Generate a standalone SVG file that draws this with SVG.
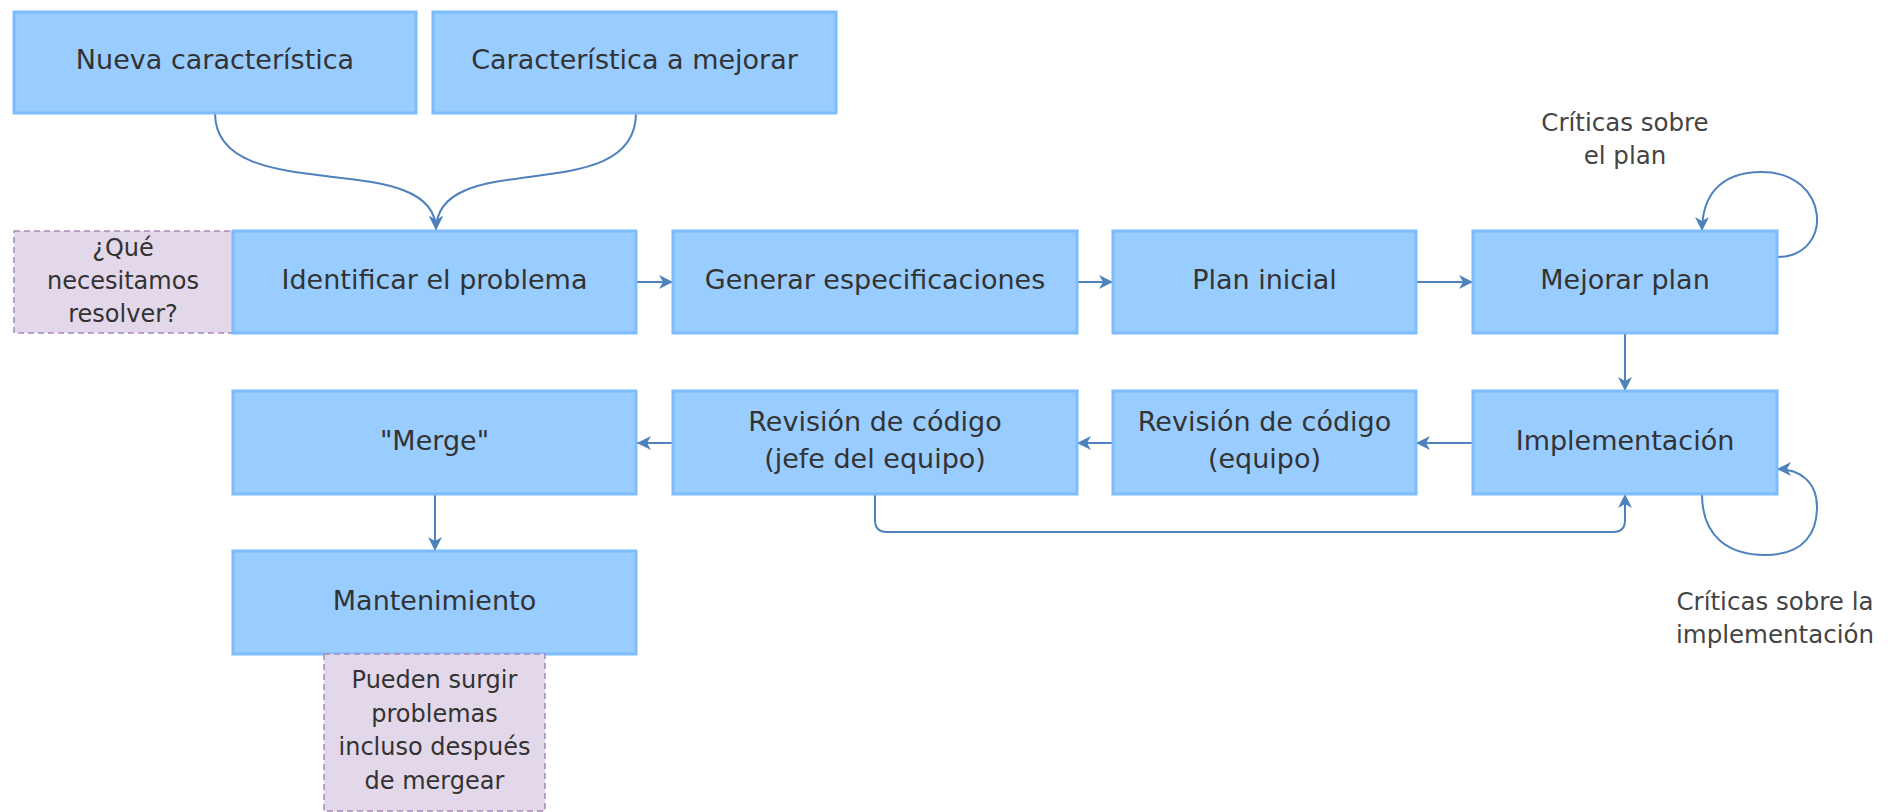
<svg xmlns="http://www.w3.org/2000/svg" width="1892" height="812" viewBox="0 0 1892 812">
<style>
.node{fill:#99ccff;stroke:#7dbcff;stroke-width:3}
.note{fill:#e3d7ea;stroke:#a88bb8;stroke-width:1.5;stroke-dasharray:6 4}
.t{font-family:"DejaVu Sans","Verdana",sans-serif;font-size:27px;fill:#333;text-anchor:middle}
.tn{font-family:"DejaVu Sans","Verdana",sans-serif;font-size:24px;fill:#333;text-anchor:middle}
.tc{font-family:"DejaVu Sans","Verdana",sans-serif;font-size:24.5px;fill:#444;text-anchor:middle}
.c{fill:none;stroke:#4f81bd;stroke-width:2}
</style>
<defs>
<marker id="arr" markerUnits="userSpaceOnUse" markerWidth="16" markerHeight="14" refX="14" refY="7" orient="auto">
<path d="M0,0 L14,7 L0,14 L4,7 z" fill="#4f81bd"/>
</marker>
</defs>
<rect width="1892" height="812" fill="#fff"/>
<g id="connectors">
<path class="c" d="M215,113 C215,210 436,145 436,230" marker-end="url(#arr)"/>
<path class="c" d="M636,113 C636,210 436,145 436,230" marker-end="url(#arr)"/>
<path class="c" d="M636,282 L673,282" marker-end="url(#arr)"/>
<path class="c" d="M1077,282 L1113,282" marker-end="url(#arr)"/>
<path class="c" d="M1416,282 L1473,282" marker-end="url(#arr)"/>
<path class="c" d="M1625,333 L1625,391" marker-end="url(#arr)"/>
<path class="c" d="M1473,443 L1416,443" marker-end="url(#arr)"/>
<path class="c" d="M1113,443 L1077,443" marker-end="url(#arr)"/>
<path class="c" d="M673,443 L637,443" marker-end="url(#arr)"/>
<path class="c" d="M435,494 L435,551" marker-end="url(#arr)"/>
<path class="c" d="M875,494 L875,520 Q875,532 887,532 L1613,532 Q1625,532 1625,520 L1625,494" marker-end="url(#arr)"/>
<path class="c" d="M1777,257 C1835,257 1830,172 1762,172 C1718,172 1702,198 1702,231" marker-end="url(#arr)"/>
<path class="c" d="M1702,494 C1702,538 1730,555 1765,555 C1805,555 1817,532 1817,507 C1817,482 1800,469 1777,469" marker-end="url(#arr)"/>
</g>
<g id="n-nueva"><rect class="node" x="14" y="12" width="402" height="101"/><text class="t" x="215" y="69">Nueva característica</text></g>
<g id="n-mejorar-car"><rect class="node" x="433" y="12" width="403" height="101"/><text class="t" x="634.5" y="69">Característica a mejorar</text></g>
<g id="note-que"><rect class="note" x="14" y="231" width="219" height="102"/><text class="tn" x="123" y="256">¿Qué</text><text class="tn" x="123" y="289">necesitamos</text><text class="tn" x="123" y="322">resolver?</text></g>
<g id="n-identificar"><rect class="node" x="233" y="231" width="403" height="102"/><text class="t" x="434.5" y="289">Identificar el problema</text></g>
<g id="n-generar"><rect class="node" x="673" y="231" width="404" height="102"/><text class="t" x="875" y="289">Generar especificaciones</text></g>
<g id="n-plan"><rect class="node" x="1113" y="231" width="303" height="102"/><text class="t" x="1264.5" y="289">Plan inicial</text></g>
<g id="n-mejorar"><rect class="node" x="1473" y="231" width="304" height="102"/><text class="t" x="1625" y="289">Mejorar plan</text></g>
<g id="n-merge"><rect class="node" x="233" y="391" width="403" height="103"/><text class="t" x="434.5" y="450">"Merge"</text></g>
<g id="n-rev-jefe"><rect class="node" x="673" y="391" width="404" height="103"/><text class="t" x="875" y="431">Revisión de código</text><text class="t" x="875" y="468">(jefe del equipo)</text></g>
<g id="n-rev-equipo"><rect class="node" x="1113" y="391" width="303" height="103"/><text class="t" x="1264.5" y="431">Revisión de código</text><text class="t" x="1264.5" y="468">(equipo)</text></g>
<g id="n-impl"><rect class="node" x="1473" y="391" width="304" height="103"/><text class="t" x="1625" y="450">Implementación</text></g>
<g id="n-mant"><rect class="node" x="233" y="551" width="403" height="103"/><text class="t" x="434.5" y="610">Mantenimiento</text></g>
<g id="note-pueden"><rect class="note" x="324" y="654" width="221" height="157"/><text class="tn" x="434.5" y="688">Pueden surgir</text><text class="tn" x="434.5" y="721.5">problemas</text><text class="tn" x="434.5" y="755">incluso después</text><text class="tn" x="434.5" y="788.5">de mergear</text></g>
<g id="lbl-plan"><text class="tc" x="1625" y="131">Críticas sobre</text><text class="tc" x="1625" y="164">el plan</text></g>
<g id="lbl-impl"><text class="tc" x="1775" y="610">Críticas sobre la</text><text class="tc" x="1775" y="643">implementación</text></g>
</svg>
